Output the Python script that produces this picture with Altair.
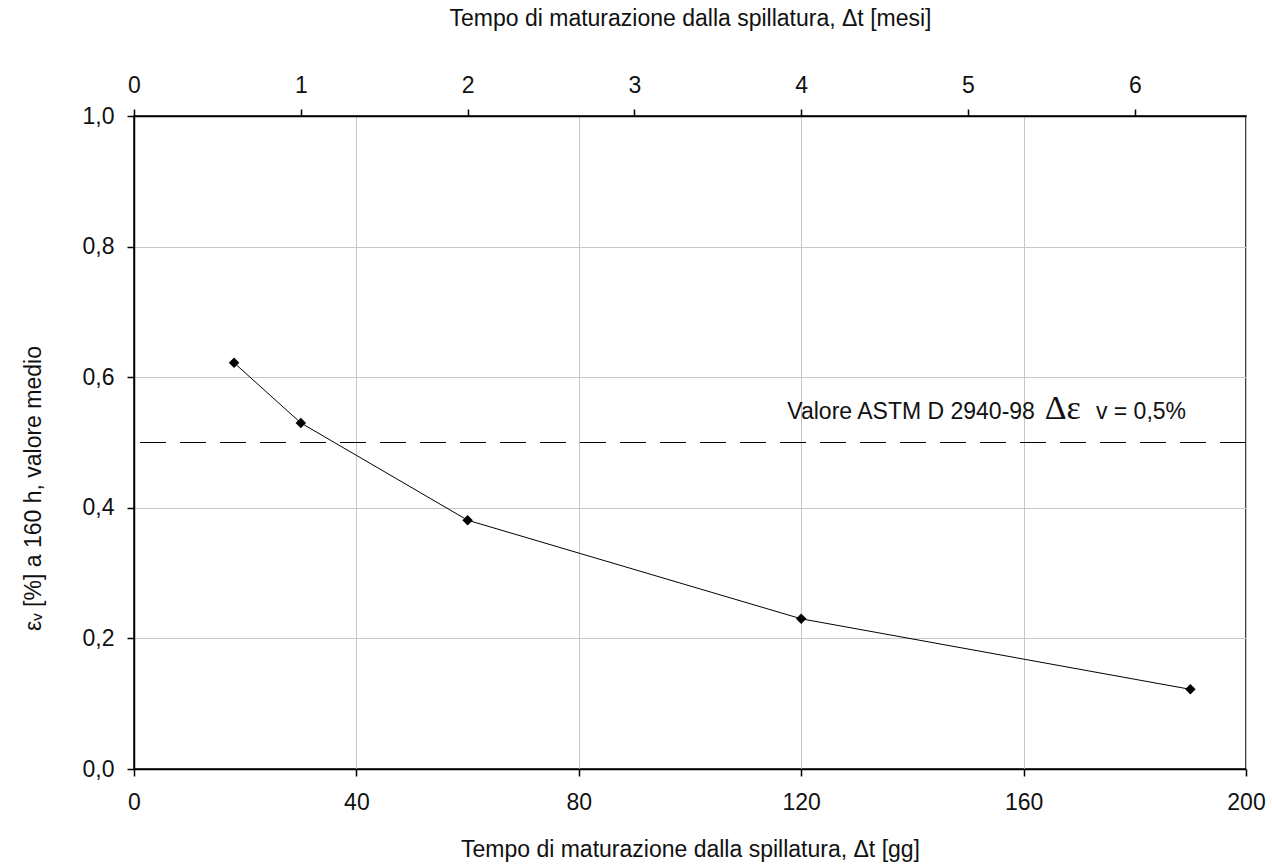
import altair as alt
import pandas as pd

# Data
giorni = [18, 30, 60, 120, 190]
eps_v = [0.622, 0.530, 0.381, 0.230, 0.122]

soglia = [0.5]
x_ticks_gg = [0, 40, 80, 120, 160, 200]
x_ticks_mesi_gg = [0, 30, 60, 90, 120, 150, 180]
y_ticks = [0.0, 0.2, 0.4, 0.6, 0.8, 1.0]

ann_testo = ["Valore ASTM D 2940-98"]
ann_x = [117.5]
ann_y = [0.547]
ann_delta = ["Δε"]
ann_delta_x = [163.8]
ann_delta_y = [0.551]
ann_v = ["v = 0,5%"]
ann_v_x = [173.0]

FONT = "Liberation Sans, Arial"
TXT = "#111111"
FS = 23

df = pd.DataFrame({"giorni": giorni, "eps": eps_v})
df_soglia = pd.DataFrame({"y": soglia})
df_ann = pd.DataFrame({"x": ann_x, "y": ann_y, "t": ann_testo})
df_delta = pd.DataFrame({"x": ann_delta_x, "y": ann_delta_y, "t": ann_delta})
df_v = pd.DataFrame({"x": ann_v_x, "y": ann_y, "t": ann_v})

xscale = alt.Scale(domain=[0, 200], nice=False, zero=False)
yscale = alt.Scale(domain=[0, 1], nice=False)

y_enc = alt.Y(
    "eps:Q",
    scale=yscale,
    axis=alt.Axis(
        values=y_ticks,
        labelExpr="replace(format(datum.value, '.1f'), '.', ',')",
        title="εᵥ [%] a 160 h, valore medio",
        titleX=-101,
        titleY=372,
        titleAngle=270,
        titleAlign="center",
        titleBaseline="middle",
        labelPadding=13,
    ),
)

x_bottom = alt.X(
    "giorni:Q",
    scale=xscale,
    axis=alt.Axis(
        values=x_ticks_gg,
        format="d",
        title="Tempo di maturazione dalla spillatura, Δt [gg]",
        orient="bottom",
        labelPadding=15,
        titlePadding=24,
    ),
)

linea = alt.Chart(df).mark_line(color="black", strokeWidth=1).encode(x=x_bottom, y=y_enc)
punti = alt.Chart(df).mark_point(
    shape="diamond", filled=True, color="black", size=110, opacity=1
).encode(x=alt.X("giorni:Q", scale=xscale), y=alt.Y("eps:Q", scale=yscale))

rule = alt.Chart(df_soglia).mark_rule(
    color="black", strokeWidth=1.2, strokeDash=[26, 14]
).encode(y=alt.Y("y:Q", scale=yscale))

t1 = alt.Chart(df_ann).mark_text(
    align="left", baseline="middle", fontSize=FS, font=FONT, color=TXT
).encode(x=alt.X("x:Q", scale=xscale), y=alt.Y("y:Q", scale=yscale), text="t:N")
t2 = alt.Chart(df_delta).mark_text(
    align="left", baseline="middle", fontSize=34, font="Liberation Serif, DejaVu Serif", color=TXT
).encode(x=alt.X("x:Q", scale=xscale), y=alt.Y("y:Q", scale=yscale), text="t:N")
t3 = alt.Chart(df_v).mark_text(
    align="left", baseline="middle", fontSize=FS, font=FONT, color=TXT
).encode(x=alt.X("x:Q", scale=xscale), y=alt.Y("y:Q", scale=yscale), text="t:N")

bottom = alt.layer(linea, punti, rule, t1, t2, t3)

top = alt.Chart(df).mark_point(opacity=0).encode(
    x=alt.X(
        "giorni:Q",
        scale=xscale,
        axis=alt.Axis(
            values=x_ticks_mesi_gg,
            labelExpr="format(datum.value / 30, 'd')",
            title="Tempo di maturazione dalla spillatura, Δt [mesi]",
            orient="top",
            grid=False,
            labelPadding=12,
            titlePadding=44,
        ),
    ),
    y=alt.Y("eps:Q", scale=yscale),
)

chart = (
    alt.layer(bottom, top)
    .resolve_scale(x="independent")
    .properties(
        width=1112,
        height=653,
        autosize=alt.AutoSizeParams(type="none"),
        padding={"left": 134, "top": 116, "right": 26, "bottom": 99},
        background="white",
    )
    .configure_view(stroke="black", strokeWidth=1.5)
    .configure_axis(
        labelFont=FONT,
        titleFont=FONT,
        labelFontSize=FS,
        titleFontSize=FS,
        labelColor=TXT,
        titleColor=TXT,
        titleFontWeight="normal",
        domainColor="black",
        domainWidth=1.5,
        tickColor="black",
        tickSize=7,
        tickWidth=1.5,
        gridColor="#c8c8c8",
        gridWidth=1,
        labelFlush=False,
        labelOverlap=False,
    )
)

chart.save("out.html", embed_options={"renderer": "svg", "actions": False})
